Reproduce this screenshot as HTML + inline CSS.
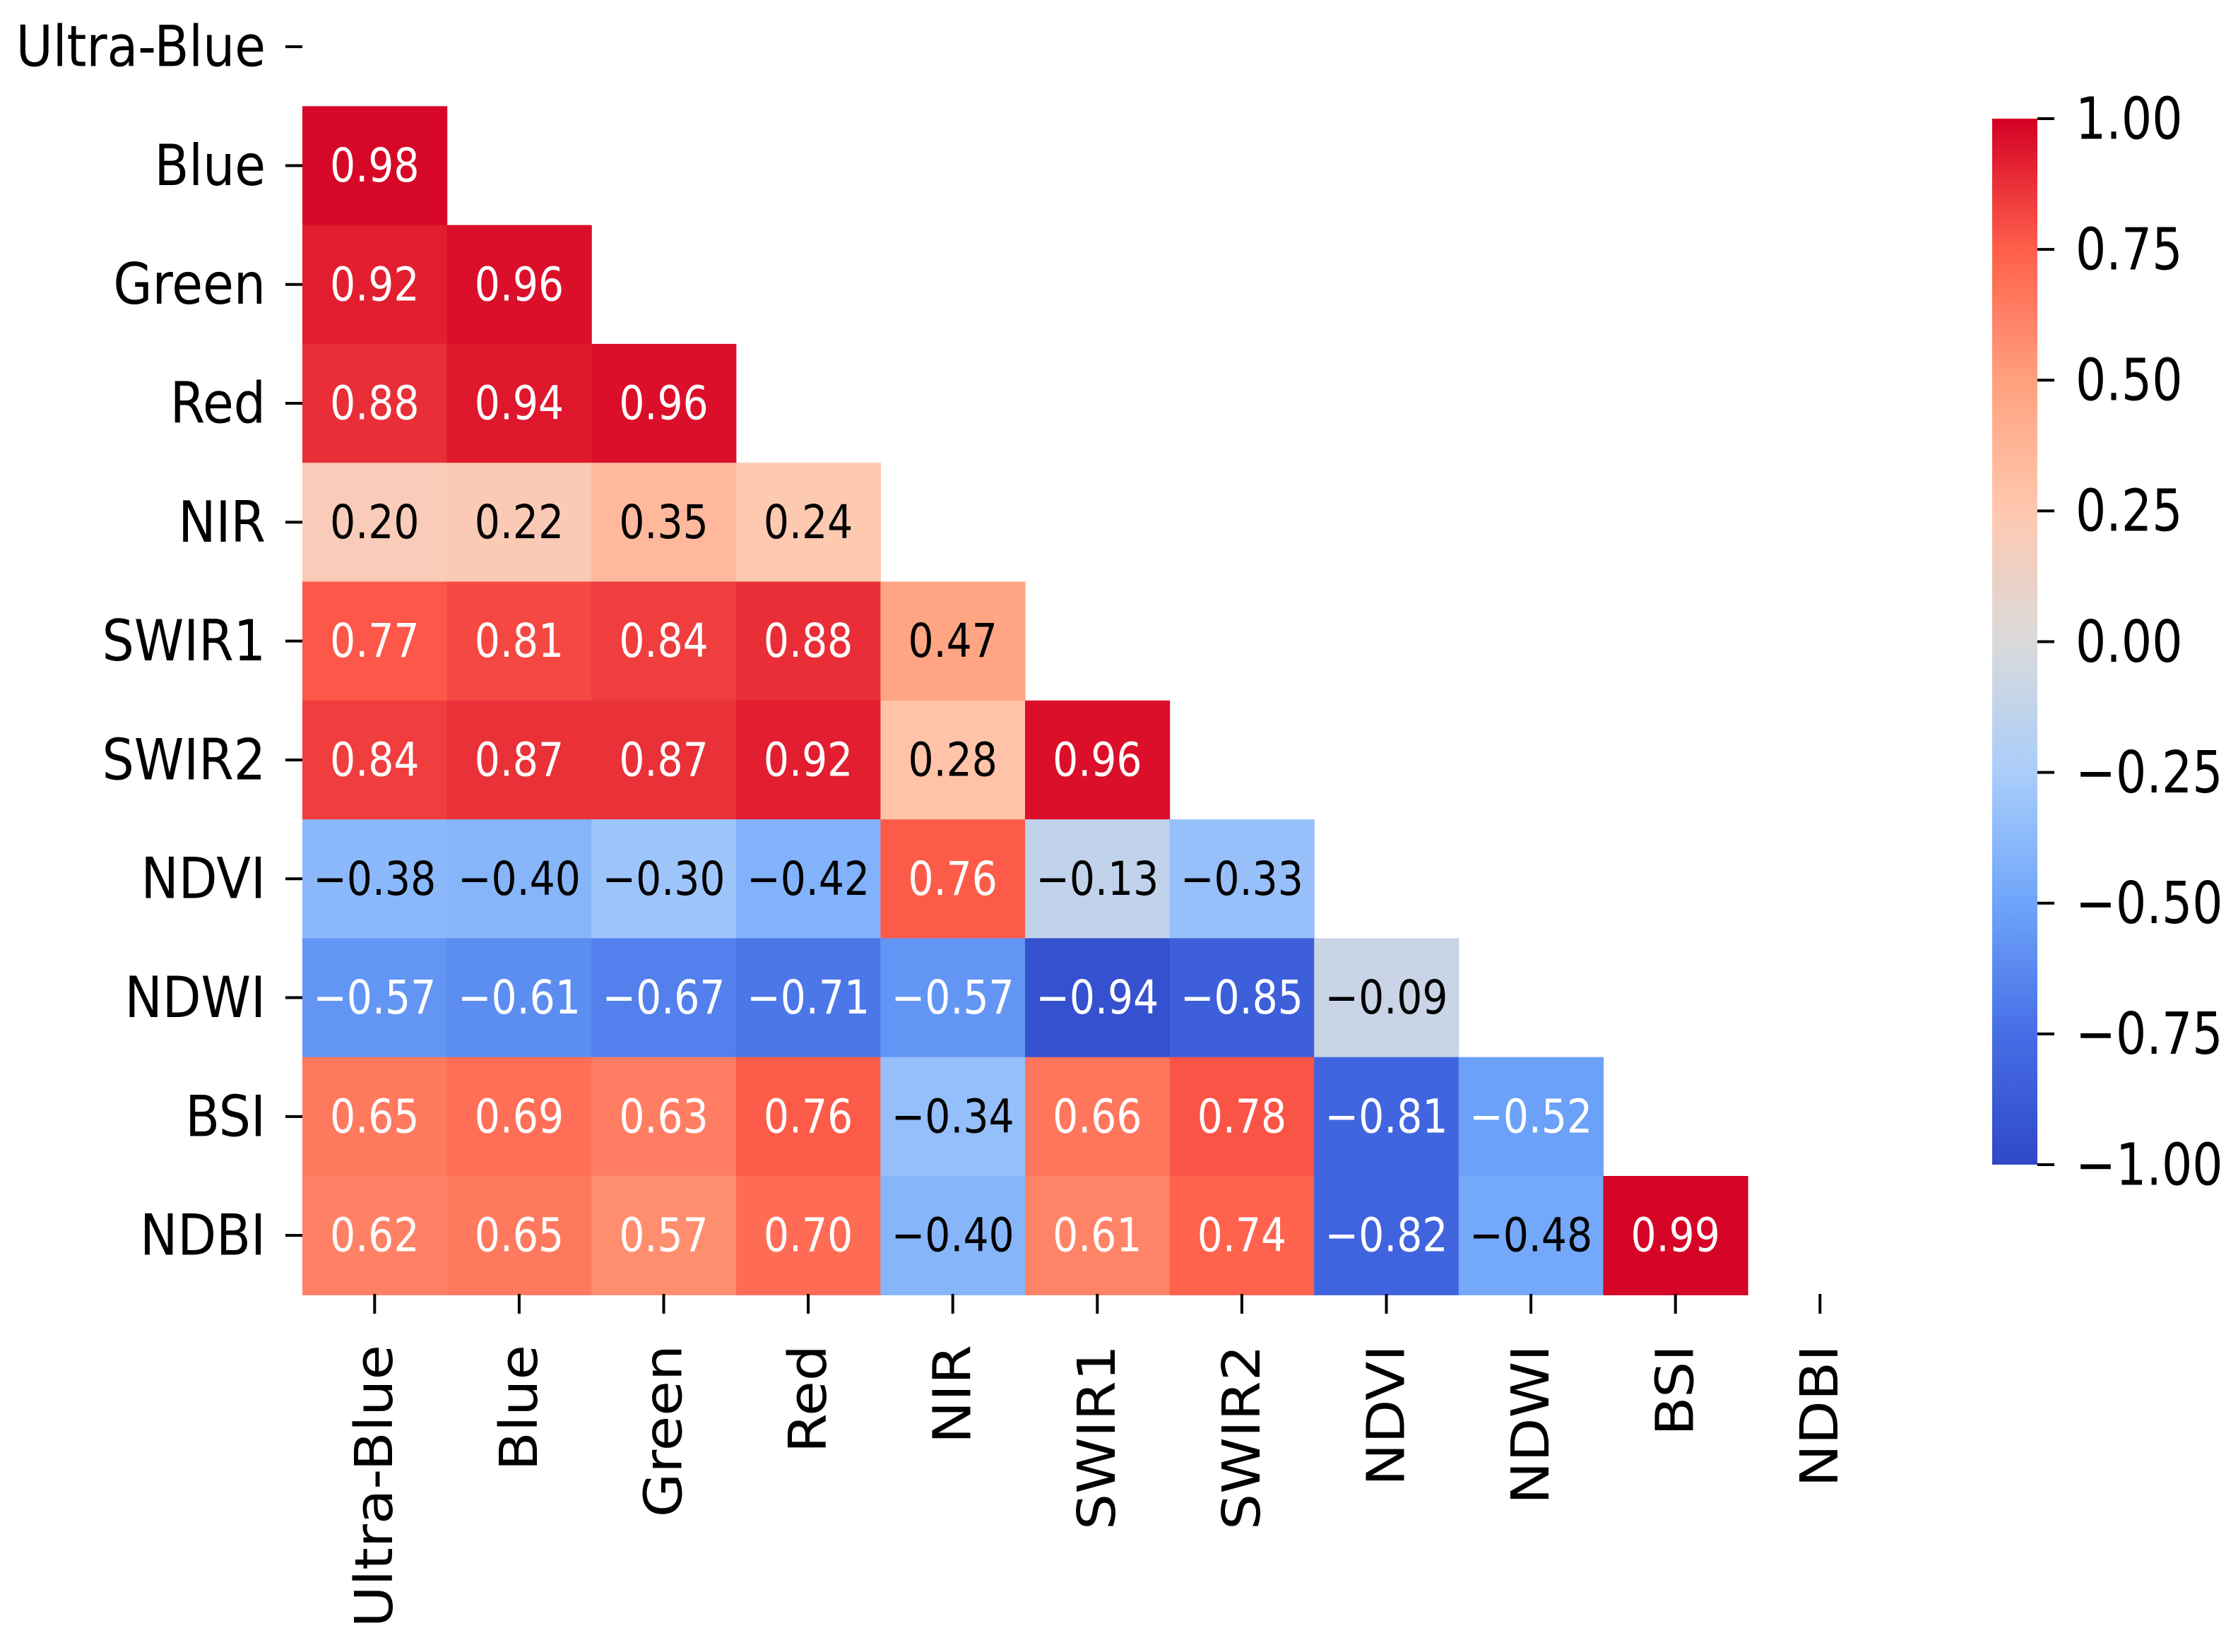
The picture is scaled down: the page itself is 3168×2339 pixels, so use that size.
<!DOCTYPE html>
<html><head><meta charset="utf-8"><style>
html,body{margin:0;padding:0;background:#fff;}
svg{display:block;}
text{font-family:"DejaVu Sans","Liberation Sans",sans-serif;}
</style></head>
<body>
<svg id="chart" width="3168" height="2339" viewBox="0 0 3168 2339" xmlns="http://www.w3.org/2000/svg">
<defs>
<linearGradient id="cbgrad" x1="0" y1="1" x2="0" y2="0">
<stop offset="0" stop-color="rgb(48,72,200)"/>
<stop offset="0.125" stop-color="rgb(70,110,230)"/>
<stop offset="0.25" stop-color="rgb(110,165,250)"/>
<stop offset="0.375" stop-color="rgb(170,205,250)"/>
<stop offset="0.5" stop-color="rgb(218,218,218)"/>
<stop offset="0.625" stop-color="rgb(255,200,175)"/>
<stop offset="0.75" stop-color="rgb(255,160,125)"/>
<stop offset="0.875" stop-color="rgb(255,95,75)"/>
<stop offset="1" stop-color="rgb(212,0,36)"/>
</linearGradient>
</defs>
<g id="cells"></g>
<g id="annots"></g>
<g id="yaxis"></g>
<g id="xaxis"></g>
<rect x="2820" y="168" width="64" height="1481" fill="url(#cbgrad)"/>
<g id="cbaxis"></g>
</svg>
<script>
const labels = ["Ultra-Blue","Blue","Green","Red","NIR","SWIR1","SWIR2","NDVI","NDWI","BSI","NDBI"];
const corrRows = [
  [],
  [0.98],
  [0.92,0.96],
  [0.88,0.94,0.96],
  [0.20,0.22,0.35,0.24],
  [0.77,0.81,0.84,0.88,0.47],
  [0.84,0.87,0.87,0.92,0.28,0.96],
  [-0.38,-0.40,-0.30,-0.42,0.76,-0.13,-0.33],
  [-0.57,-0.61,-0.67,-0.71,-0.57,-0.94,-0.85,-0.09],
  [0.65,0.69,0.63,0.76,-0.34,0.66,0.78,-0.81,-0.52],
  [0.62,0.65,0.57,0.70,-0.40,0.61,0.74,-0.82,-0.48,0.99]
];
const cbTicks = [1.00,0.75,0.50,0.25,0.00,-0.25,-0.50,-0.75,-1.00];
const cmapPos = [-1,-0.75,-0.5,-0.25,0,0.25,0.5,0.75,1];
const cmapR = [48,70,110,170,218,255,255,255,212];
const cmapG = [72,110,165,205,218,200,160,95,0];
const cmapB = [200,230,250,250,218,175,125,75,36];

const NS="http://www.w3.org/2000/svg";
const X0=428, CW=204.6, Y0=-18, CH=168.3;
const xPos = j => X0 + j*CW;
const yPos = i => Y0 + i*CH;
const CB_TOP=168, CB_BOT=1649;
const cbY = v => CB_BOT - (v+1)/2*(CB_BOT-CB_TOP);
function color(v){
  for(let k=0;k<cmapPos.length-1;k++){
    if(v<=cmapPos[k+1]){
      const t=(v-cmapPos[k])/(cmapPos[k+1]-cmapPos[k]);
      const c=(a)=>Math.round(a[k]+(a[k+1]-a[k])*t);
      return `rgb(${c(cmapR)},${c(cmapG)},${c(cmapB)})`;
    }
  }
  return `rgb(${cmapR[8]},${cmapG[8]},${cmapB[8]})`;
}
function mk(tag,attrs,parent){const e=document.createElementNS(NS,tag);for(const k in attrs)e.setAttribute(k,attrs[k]);parent.appendChild(e);return e;}
function fmt(v){return (v<0?"\u2212":"")+Math.abs(v).toFixed(2);}

const cells=document.getElementById('cells'), ann=document.getElementById('annots');
corrRows.forEach((row,i)=>{
  row.forEach((v,j)=>{
    const r=mk('rect',{x:xPos(j),y:yPos(i),width:CW+0.6,height:CH+0.6,fill:color(v)},cells);
    
    
    const t=mk('text',{transform:`translate(${xPos(j)+CW/2},${yPos(i)+CH/2}) scale(0.86,1)`,'text-anchor':'middle','dominant-baseline':'central','font-size':66,fill:(Math.abs(v)>0.5?'#fff':'#000')},ann);
    t.textContent=fmt(v);
    
    
  });
});
const ya=document.getElementById('yaxis');
labels.forEach((l,i)=>{
  const cy=yPos(i)+CH/2;
  mk('line',{x1:404,x2:428,y1:cy,y2:cy,stroke:'#000','stroke-width':4},ya);
  const t=mk('text',{transform:`translate(376,${cy}) scale(0.89,1)`,'text-anchor':'end','dominant-baseline':'central','font-size':80,fill:'#000'},ya);
  t.textContent=l;
  
  
});
const xa=document.getElementById('xaxis');
labels.forEach((l,j)=>{
  const cx=xPos(j)+CW/2;
  mk('line',{x1:cx,x2:cx,y1:1832,y2:1860,stroke:'#000','stroke-width':4},xa);
  const t=mk('text',{transform:`translate(${cx},1904) rotate(-90) scale(1.09,1)`,'text-anchor':'end','dominant-baseline':'central','font-size':74,fill:'#000'},xa);
  t.textContent=l;
  
  
});
const cba=document.getElementById('cbaxis');
cbTicks.forEach(v=>{
  const y=cbY(v);
  mk('line',{x1:2884,x2:2908,y1:y,y2:y,stroke:'#000','stroke-width':4},cba);
  const t=mk('text',{transform:`translate(2938,${y}) scale(0.83,1)`,'dominant-baseline':'central','font-size':82,fill:'#000'},cba);
  t.textContent=fmt(v);
  
  
});
</script>
</body></html>
